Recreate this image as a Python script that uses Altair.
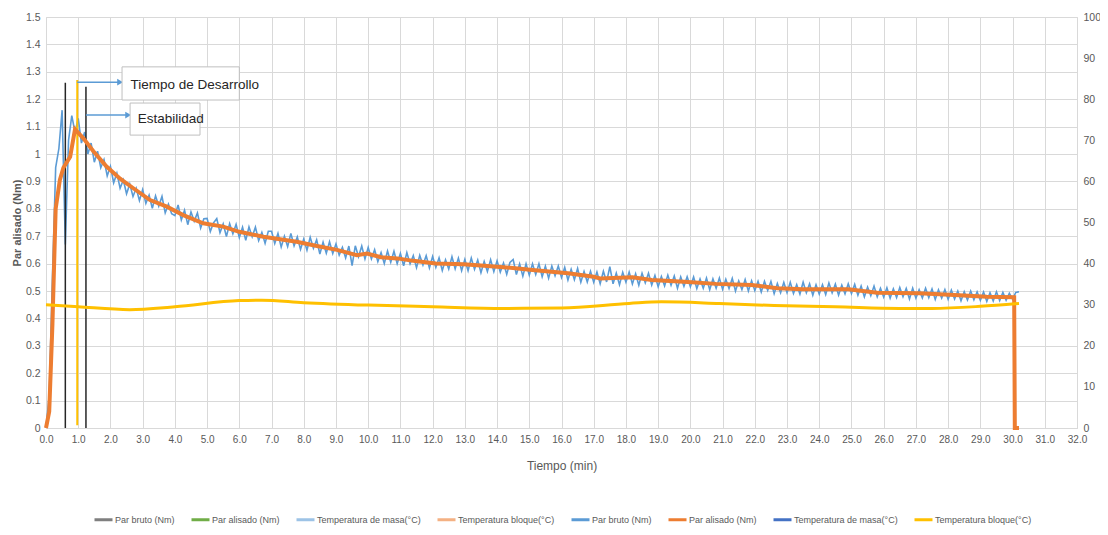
import altair as alt
import pandas as pd

FONT = "Liberation Sans"
GRAY = "#595959"

# ---- Par bruto (Nm): noisy torque, sampled every 0.1 min ----
bruto_vals = [
    0.0, 0.12, 0.55, 0.95, 1.02, 1.16, 0.67, 1.05, 1.14, 1.08,
    1.13, 1.04, 1.08, 1.0, 1.04, 0.97, 1.01, 0.95, 0.98, 0.92,
    0.955, 0.895, 0.93, 0.875, 0.905, 0.855, 0.89, 0.845, 0.875, 0.83,
    0.87, 0.82, 0.85, 0.802, 0.847, 0.81, 0.845, 0.785, 0.817, 0.782,
    0.775, 0.814, 0.759, 0.795, 0.742, 0.788, 0.755, 0.785, 0.73, 0.764,
    0.765, 0.717, 0.749, 0.764, 0.713, 0.745, 0.699, 0.746, 0.709, 0.743,
    0.695, 0.733, 0.685, 0.734, 0.698, 0.733, 0.684, 0.714, 0.674, 0.718,
    0.718, 0.674, 0.71, 0.661, 0.70, 0.662, 0.71, 0.665, 0.697, 0.652,
    0.69, 0.649, 0.696, 0.656, 0.687, 0.635, 0.678, 0.638, 0.68, 0.637,
    0.672, 0.631, 0.659, 0.621, 0.664, 0.593, 0.665, 0.625, 0.664, 0.617,
    0.659, 0.617, 0.651, 0.607, 0.64, 0.60, 0.646, 0.605, 0.645, 0.60,
    0.637, 0.592, 0.64, 0.599, 0.629, 0.585, 0.63, 0.595, 0.629, 0.584,
    0.626, 0.586, 0.621, 0.575, 0.614, 0.58, 0.625, 0.581, 0.62, 0.574,
    0.615, 0.574, 0.62, 0.579, 0.613, 0.567, 0.608, 0.571, 0.614, 0.571,
    0.61, 0.569, 0.602, 0.561, 0.604, 0.615, 0.56, 0.599, 0.554, 0.599,
    0.558, 0.599, 0.56, 0.599, 0.552, 0.591, 0.547, 0.591, 0.556, 0.591,
    0.549, 0.586, 0.54, 0.579, 0.541, 0.582, 0.532, 0.571, 0.533, 0.572,
    0.532, 0.569, 0.527, 0.572, 0.533, 0.589, 0.526, 0.565, 0.523, 0.568,
    0.532, 0.569, 0.526, 0.563, 0.521, 0.565, 0.53, 0.565, 0.522, 0.557,
    0.516, 0.553, 0.519, 0.558, 0.521, 0.555, 0.51, 0.551, 0.517, 0.552,
    0.516, 0.551, 0.509, 0.544, 0.51, 0.547, 0.505, 0.544, 0.51, 0.547,
    0.506, 0.543, 0.509, 0.546, 0.50, 0.537, 0.505, 0.542, 0.50, 0.537,
    0.502, 0.535, 0.496, 0.535, 0.502, 0.535, 0.49, 0.527, 0.494, 0.531,
    0.494, 0.532, 0.491, 0.523, 0.489, 0.532, 0.494, 0.526, 0.485, 0.523,
    0.489, 0.523, 0.487, 0.529, 0.493, 0.525, 0.485, 0.521, 0.49, 0.526,
    0.491, 0.524, 0.485, 0.518, 0.479, 0.514, 0.483, 0.518, 0.479, 0.51,
    0.478, 0.512, 0.474, 0.508, 0.476, 0.513, 0.479, 0.509, 0.471, 0.51,
    0.474, 0.505, 0.475, 0.51, 0.476, 0.507, 0.469, 0.504, 0.474, 0.505,
    0.47, 0.503, 0.471, 0.50, 0.464, 0.497, 0.467, 0.50, 0.468, 0.497,
    0.466, 0.496, 0.462, 0.494, 0.464, 0.497, 0.465, 0.495, 0.466, 0.492,
    0.47, 0.495, 0.497,
]
bruto_t = [round(i * 0.1, 1) for i in range(len(bruto_vals))]

# ---- Par alisado (Nm): smoothed torque ----
alisado_t = [0, 0.1, 0.2, 0.3, 0.43, 0.54, 0.75, 0.9, 1.16, 1.47, 1.88, 2.3, 2.71,
             3.23, 3.75, 4.26, 4.88, 5.5, 6.0, 6.75, 7.78, 8.41, 9.03, 9.65, 9.96,
             10.4, 10.9, 11.4, 12.1, 12.96, 13.6, 14.3, 15.1, 16.2, 17.0, 17.2,
             18.2, 18.8, 19.8, 20.8, 21.9, 22.7, 23.5, 24.9, 25.8, 27.1, 28.2,
             29.2, 30.05, 30.07, 30.2]
alisado_v = [0, 0.06, 0.38, 0.8, 0.905, 0.95, 0.99, 1.09, 1.057, 1.01, 0.954, 0.91,
             0.875, 0.832, 0.808, 0.777, 0.747, 0.735, 0.716, 0.698, 0.68, 0.664,
             0.65, 0.631, 0.637, 0.623, 0.619, 0.61, 0.60, 0.598, 0.592, 0.586,
             0.577, 0.565, 0.552, 0.546, 0.55, 0.54, 0.534, 0.526, 0.522, 0.51,
             0.506, 0.506, 0.494, 0.492, 0.485, 0.479, 0.477, 0.0, 0.0]

# ---- Temperatura bloque (°C), right axis ----
temp_t = [0, 1.0, 2.6, 4.0, 6.0, 6.7, 8.0, 10.0, 12.0, 14.2, 16.0, 18.1, 19.1,
          20.9, 22.6, 24.5, 26.5, 27.5, 29.0, 30.2]
temp_v = [30.0, 29.5, 28.8, 29.5, 31.0, 31.1, 30.5, 29.9, 29.5, 29.1, 29.2, 30.3,
          30.7, 30.3, 29.8, 29.5, 29.1, 29.1, 29.6, 30.3]

# ---- vertical markers ----
marker_t = [0.6, 0.97, 1.24]
marker_top = [1.26, 1.27, 1.245]
marker_bottom = [0.0, 0.01, 0.0]
marker_color = ["#262626", "#FFC000", "#262626"]
marker_width = [1.5, 2.0, 1.5]

# ---- legend ----
legend_keys = ["a:Par bruto (Nm)", "b:Par alisado (Nm)", "c:Temperatura de masa(°C)",
               "d:Temperatura bloque(°C)", "e:Par bruto (Nm)", "f:Par alisado (Nm)",
               "g:Temperatura de masa(°C)", "h:Temperatura bloque(°C)"]
legend_colors = ["#7F7F7F", "#70AD47", "#9DC3E6", "#F4B183",
                 "#5B9BD5", "#ED7D31", "#4472C4", "#FFC000"]

# ---- annotations ----
ann_text = ["Tiempo de Desarrollo", "Estabilidad"]
ann_box_x = [2.36, 2.61]
ann_box_x2 = [6.0, 4.78]
ann_box_y = [1.318, 1.186]
ann_box_y2 = [1.197, 1.069]
ann_text_x = [2.62, 2.85]
ann_text_y = [1.252, 1.128]
arrow_x = [0.97, 1.24]
arrow_x2 = [2.3, 2.55]
arrow_y = [1.262, 1.142]

bruto_df = pd.DataFrame({"t": bruto_t, "v": bruto_vals, "k": legend_keys[4]})
alis_df = pd.DataFrame({"t": alisado_t, "v": alisado_v, "k": legend_keys[5]})
temp_df = pd.DataFrame({"t": temp_t, "v": temp_v, "k": legend_keys[7]})
mark_df = pd.DataFrame({"t": marker_t, "top": marker_top, "bot": marker_bottom,
                        "c": marker_color, "w": marker_width})
ann_df = pd.DataFrame({"text": ann_text, "bx": ann_box_x, "bx2": ann_box_x2,
                       "by": ann_box_y, "by2": ann_box_y2, "tx": ann_text_x,
                       "ty": ann_text_y, "ax": arrow_x, "ax2": arrow_x2, "ay": arrow_y})

xscale = alt.Scale(domain=[0, 32], nice=False, zero=False)
yscale = alt.Scale(domain=[0, 1.5], nice=False)
rscale = alt.Scale(domain=[0, 100], nice=False)

x_vals = list(range(0, 33))
y_vals = [0, 0.1, 0.2, 0.3, 0.4, 0.5, 0.6, 0.7, 0.8, 0.9, 1.0, 1.1, 1.2, 1.3, 1.4, 1.5]
r_vals = [0, 10, 20, 30, 40, 50, 60, 70, 80, 90, 100]

x_axis = alt.Axis(values=x_vals, format=".1f", title="Tiempo (min)", grid=True,
                  gridColor="#D9D9D9", ticks=False, domainColor="#D9D9D9",
                  labelOverlap=False, labelFlush=False, labelColor=GRAY,
                  labelFontSize=10, labelPadding=6, titleColor=GRAY,
                  titleFontSize=12, titleFontWeight="normal", titlePadding=16,
                  labelFont=FONT, titleFont=FONT)
y_axis = alt.Axis(values=y_vals, format="~g", title="Par alisado (Nm)", grid=True,
                  gridColor="#D9D9D9", ticks=False, domain=False,
                  labelOverlap=False, labelFlush=False, labelColor=GRAY,
                  labelFontSize=10.5, labelPadding=6, titleColor=GRAY,
                  titleFontSize=11, titleFontWeight="bold", titlePadding=3,
                  labelFont=FONT, titleFont=FONT)
r_axis = alt.Axis(values=r_vals, orient="right", title=None, grid=False, ticks=False,
                  domain=False, labelOverlap=False, labelFlush=False,
                  labelColor=GRAY, labelFontSize=10.5, labelPadding=6,
                  labelFont=FONT)

color = alt.Color("k:N", scale=alt.Scale(domain=legend_keys, range=legend_colors),
                  legend=alt.Legend(title=None, orient="none", legendX=47, legendY=492,
                                    direction="horizontal", columns=8,
                                    symbolType="stroke", symbolSize=324,
                                    symbolStrokeWidth=3, labelOffset=1,
                                    columnPadding=10, labelFontSize=9,
                                    labelColor=GRAY, labelFont=FONT,
                                    labelExpr="slice(datum.label, 2)",
                                    labelLimit=300))

X = alt.X("t:Q", scale=xscale, axis=x_axis)

bruto = alt.Chart(bruto_df).mark_line(strokeWidth=1.6).encode(
    x=X, y=alt.Y("v:Q", scale=yscale, axis=y_axis), color=color)

alis = alt.Chart(alis_df).mark_line(strokeWidth=4).encode(
    x=X, y=alt.Y("v:Q", scale=yscale, axis=y_axis),
    color=alt.Color("k:N", legend=None))

markers = alt.Chart(mark_df).mark_rule().encode(
    x=X, y=alt.Y("bot:Q", scale=yscale, axis=y_axis), y2="top:Q",
    strokeWidth=alt.StrokeWidth("w:Q", scale=None, legend=None),
    color=alt.Color("c:N", scale=None, legend=None))

boxes = alt.Chart(ann_df).mark_rect(fill="white", stroke="#BFBFBF", strokeWidth=1).encode(
    x=alt.X("bx:Q", scale=xscale, axis=x_axis), x2="bx2:Q",
    y=alt.Y("by:Q", scale=yscale, axis=y_axis), y2="by2:Q")

texts = alt.Chart(ann_df).mark_text(align="left", baseline="middle", fontSize=13.5,
                                    font=FONT, color="#262626").encode(
    x=alt.X("tx:Q", scale=xscale, axis=x_axis),
    y=alt.Y("ty:Q", scale=yscale, axis=y_axis), text="text:N")

arrows = alt.Chart(ann_df).mark_rule(color="#5B9BD5", strokeWidth=1.5).encode(
    x=alt.X("ax:Q", scale=xscale, axis=x_axis), x2="ax2:Q",
    y=alt.Y("ay:Q", scale=yscale, axis=y_axis))

heads = alt.Chart(ann_df).mark_point(shape="triangle-right", filled=True, size=45,
                                     color="#5B9BD5", opacity=1).encode(
    x=alt.X("ax2:Q", scale=xscale, axis=x_axis),
    y=alt.Y("ay:Q", scale=yscale, axis=y_axis))

temp = alt.Chart(temp_df).mark_line(strokeWidth=3, interpolate="monotone").encode(
    x=X, y=alt.Y("v:Q", scale=rscale, axis=r_axis),
    color=alt.Color("k:N", legend=None))

left = alt.layer(bruto, markers, alis, arrows, heads, boxes, texts)
chart = alt.layer(left, temp).resolve_scale(y="independent").properties(
    width=1031, height=411,
    autosize=alt.AutoSizeParams(type="none"),
    padding={"left": 38, "top": 9, "right": 23, "bottom": 98},
).configure_view(stroke=None).configure(background="white")

chart.save("out.html", embed_options={"renderer": "svg", "actions": False})
